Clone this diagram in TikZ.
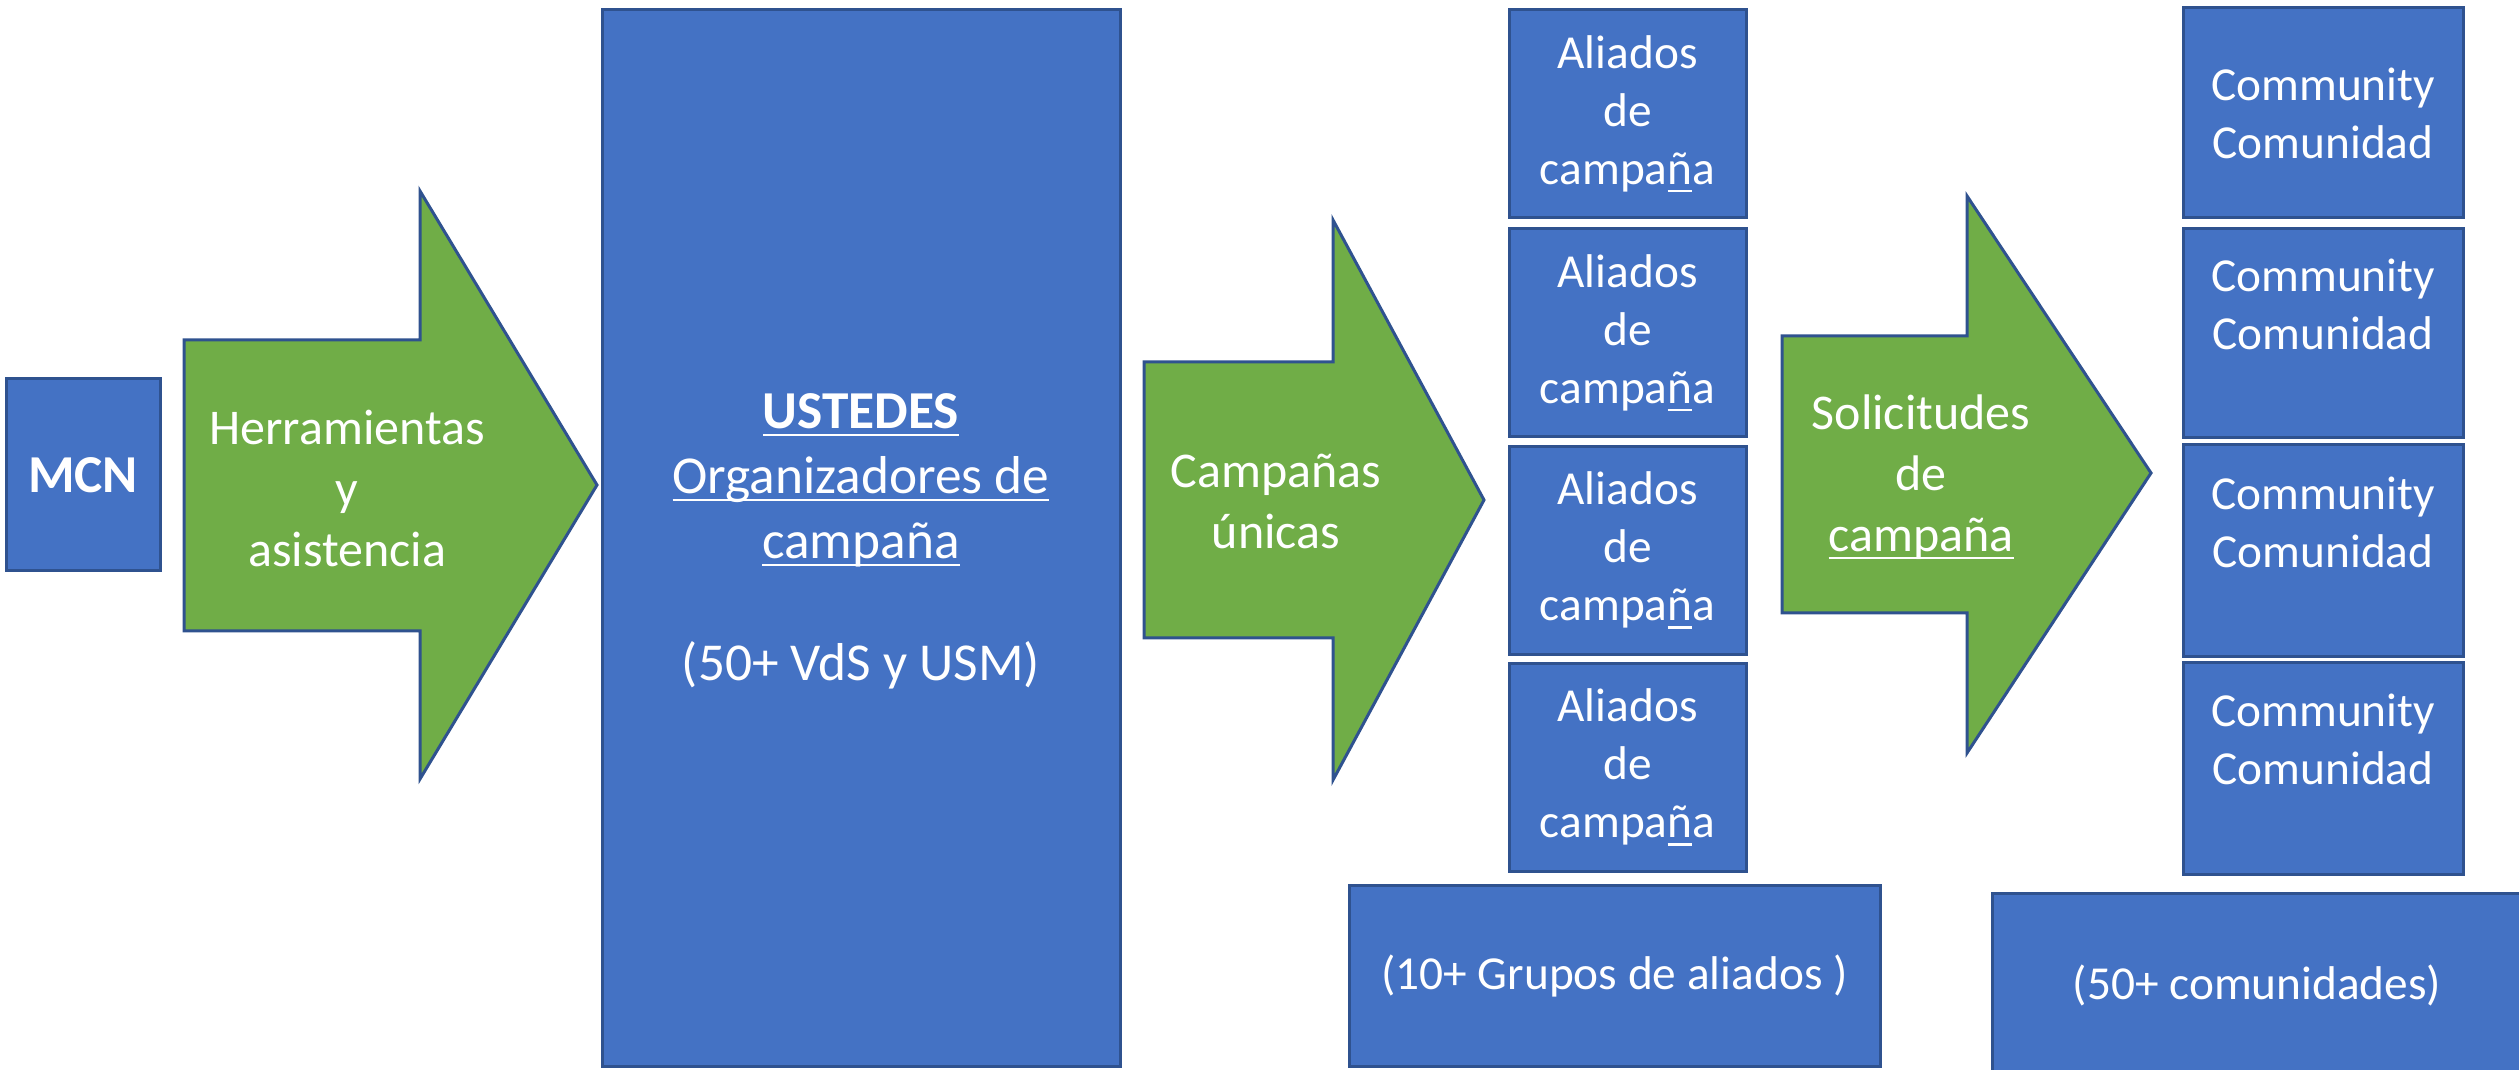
\documentclass[tikz,border=0pt]{standalone}
\usepackage{fontspec}
\setmainfont{Carlito}
\definecolor{boxc}{HTML}{4472C4}
\definecolor{greenc}{HTML}{70AD47}
\definecolor{bordc}{HTML}{2F528F}
\newsavebox\ulbox
\newcommand{\myul}[1]{\sbox\ulbox{#1}\rlap{\rule[-2.4pt]{\wd\ulbox}{0.75pt}}\usebox\ulbox}
\begin{document}
\begin{tikzpicture}[x=0.3pt,y=-0.3pt,
  box/.style={draw=bordc, fill=boxc, line width=0.9pt, text=white, align=center, inner sep=0pt},
  greenarrow/.style={draw=bordc, fill=greenc, line width=0.9pt, line join=miter},
  lbl/.style={text=white, align=center, inner sep=0pt},
  f16/.style={font=\fontsize{16}{19.5}\selectfont},
  f15/.style={font=\fontsize{15}{18.3}\selectfont},
  f14/.style={font=\fontsize{14.2}{17.4}\selectfont}]
\useasboundingbox (0,0) rectangle (2519,1070);
% MCN
\node[box, font=\bfseries\fontsize{16}{19.5}\selectfont, minimum width={154*0.3pt}, minimum height={192*0.3pt}] (mcn) at (83,475) {MCN};
% arrow 1
\draw[greenarrow] (184,340) -- (420,340) -- (420,191) -- (597,485) -- (420,779) -- (420,631) -- (184,631) -- cycle;
\node[lbl, f15] (herr) at (347,488) {Herramientas\\y\\asistencia};
% USTEDES
\node[box, f16, minimum width={518*0.3pt}, minimum height={1056*0.3pt}] (ust) at (861,538) {};
\node[lbl, f16] (usttxt) at (861,541) {\myul{\textbf{USTEDES}}\\\myul{Organizadores de}\\\myul{campaña}\\[17pt](50+ VdS y USM)};
% arrow 2
\draw[greenarrow] (1144,362) -- (1333,362) -- (1333,220) -- (1484,500) -- (1333,780) -- (1333,638) -- (1144,638) -- cycle;
\node[lbl, f15] (camp) at (1276,501) {Campañas\\únicas};
% Aliados
\node[box, f14, minimum width={237*0.3pt}, minimum height={208*0.3pt}] (al1) at (1627.5,114) {Aliados\\de\\campa\myul{ñ}a};
\node[box, f14, minimum width={237*0.3pt}, minimum height={208*0.3pt}] (al2) at (1627.5,333) {Aliados\\de\\campa\myul{ñ}a};
\node[box, f14, minimum width={237*0.3pt}, minimum height={208*0.3pt}] (al3) at (1627.5,550.5) {Aliados\\de\\campa\myul{ñ}a};
\node[box, f14, minimum width={237*0.3pt}, minimum height={208*0.3pt}] (al4) at (1627.5,767.5) {Aliados\\de\\campa\myul{ñ}a};
\node[box, f14, minimum width={531*0.3pt}, minimum height={181*0.3pt}] (grupos) at (1614.5,975.5) {(10+ Grupos de aliados )};
% arrow 3
\draw[greenarrow] (1782,336) -- (1967,336) -- (1967,196) -- (2151,473) -- (1967,753) -- (1967,613) -- (1782,613) -- cycle;
\node[lbl, f15] (sol) at (1921,477) {Solicitudes\\de\\\myul{campaña}};
% Community
\node[box, f14, minimum width={280*0.3pt}, minimum height={210*0.3pt}] (co1) at (2323,113) {Community\\Comunidad};
\node[box, f14, minimum width={280*0.3pt}, minimum height={209*0.3pt}] (co2) at (2323,333.5) {Community\\Comunidad\\\mbox{}};
\node[box, f14, minimum width={280*0.3pt}, minimum height={212*0.3pt}] (co3) at (2323,551) {Community\\Comunidad\\\mbox{}};
\node[box, f14, minimum width={280*0.3pt}, minimum height={211*0.3pt}] (co4) at (2323,768.5) {Community\\Comunidad\\\mbox{}};
\node[box, f14, minimum width={530*0.3pt}, minimum height={185*0.3pt}] (comun) at (2257,985.5) {(50+ comunidades)};
\end{tikzpicture}
\end{document}
